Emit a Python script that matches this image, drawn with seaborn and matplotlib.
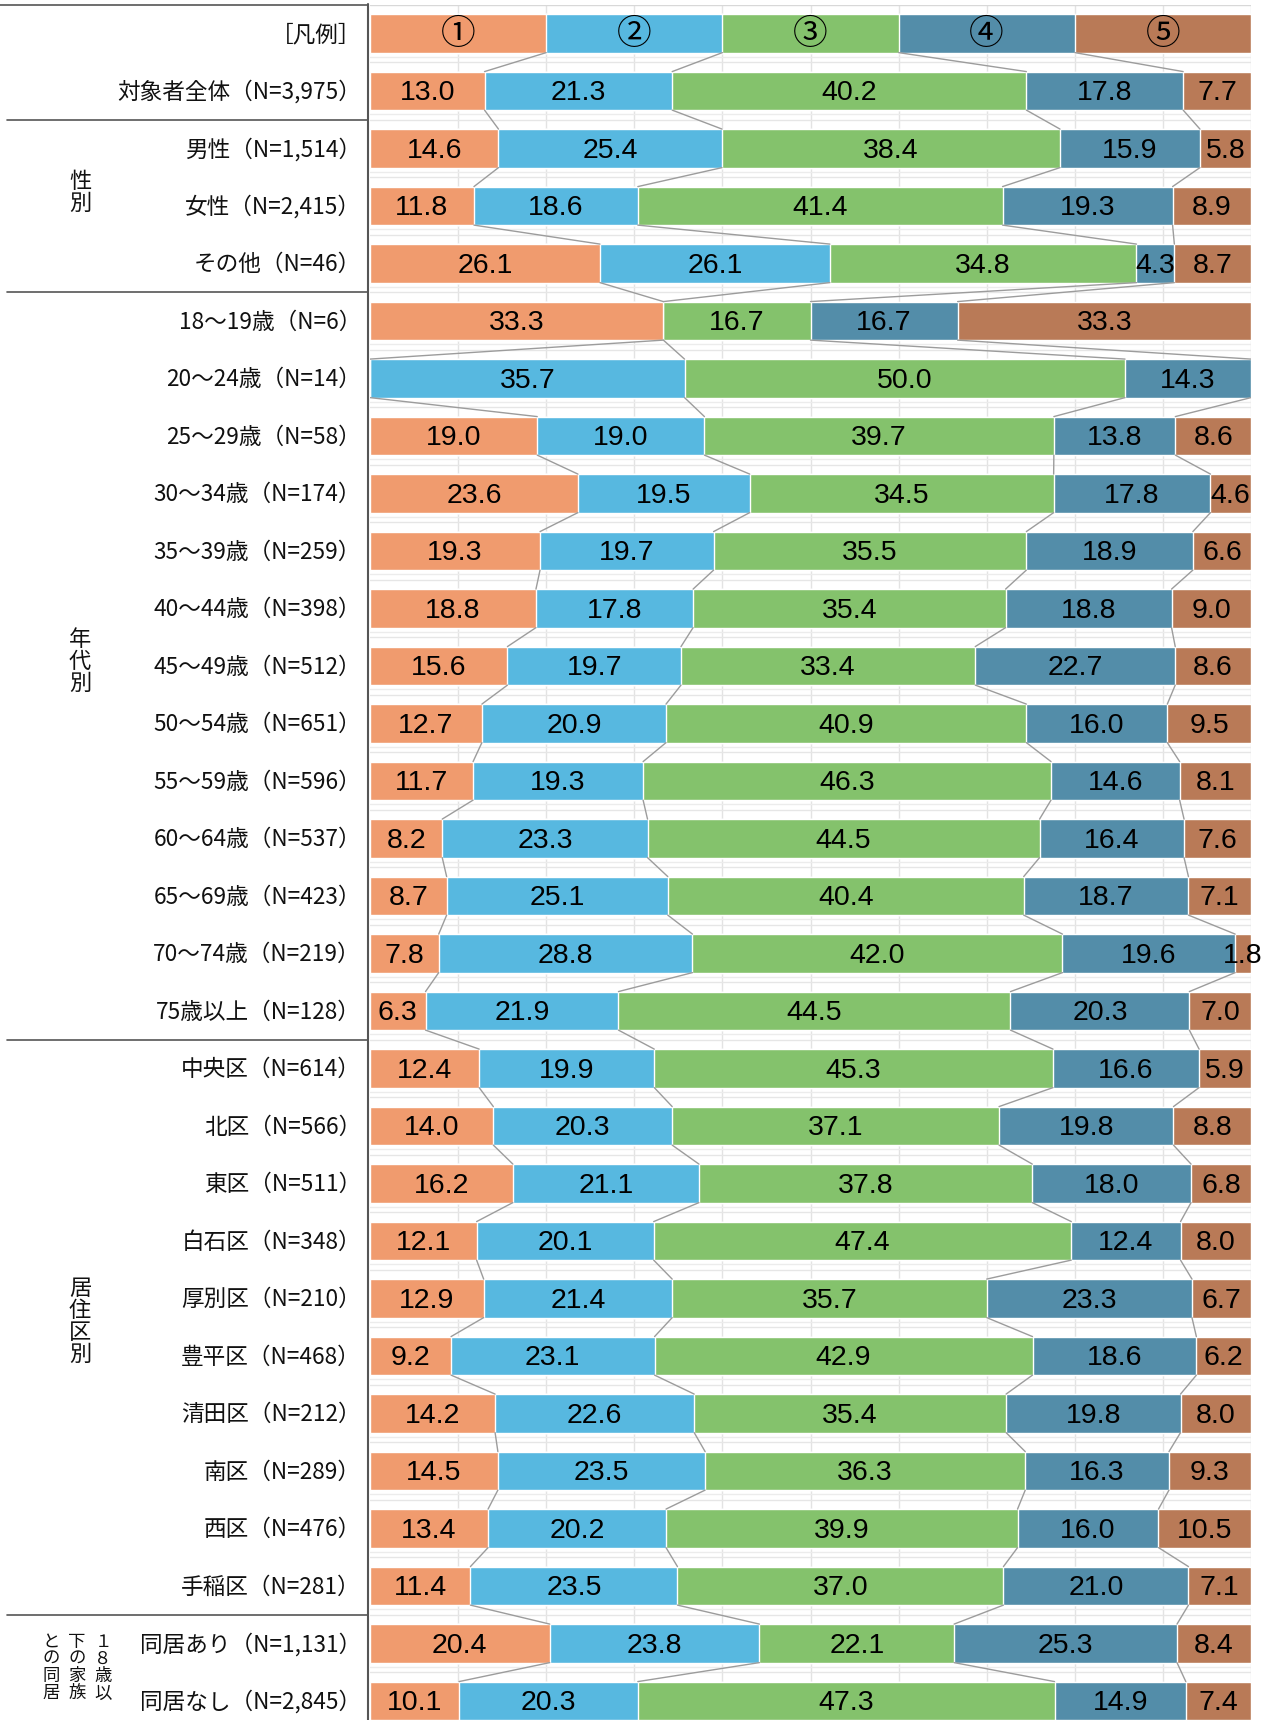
import numpy as np
import matplotlib.pyplot as plt
import matplotlib.transforms as mtransforms
from matplotlib.lines import Line2D
import seaborn as sns

# ── data ─────────────────────────────────────────────────────────────────────
ROW_NAMES = [
    "対象者全体", "男性", "女性", "その他",
    "18～19歳", "20～24歳", "25～29歳", "30～34歳", "35～39歳", "40～44歳",
    "45～49歳", "50～54歳", "55～59歳", "60～64歳", "65～69歳", "70～74歳", "75歳以上",
    "中央区", "北区", "東区", "白石区", "厚別区", "豊平区", "清田区", "南区", "西区", "手稲区",
    "同居あり", "同居なし",
]
ROW_N = [
    "3,975", "1,514", "2,415", "46",
    "6", "14", "58", "174", "259", "398",
    "512", "651", "596", "537", "423", "219", "128",
    "614", "566", "511", "348", "210", "468", "212", "289", "476", "281",
    "1,131", "2,845",
]
S1 = [13.0, 14.6, 11.8, 26.1, 33.3, 0.0, 19.0, 23.6, 19.3, 18.8, 15.6, 12.7, 11.7, 8.2, 8.7,
      7.8, 6.3, 12.4, 14.0, 16.2, 12.1, 12.9, 9.2, 14.2, 14.5, 13.4, 11.4, 20.4, 10.1]
S2 = [21.3, 25.4, 18.6, 26.1, 0.0, 35.7, 19.0, 19.5, 19.7, 17.8, 19.7, 20.9, 19.3, 23.3, 25.1,
      28.8, 21.9, 19.9, 20.3, 21.1, 20.1, 21.4, 23.1, 22.6, 23.5, 20.2, 23.5, 23.8, 20.3]
S3 = [40.2, 38.4, 41.4, 34.8, 16.7, 50.0, 39.7, 34.5, 35.5, 35.4, 33.4, 40.9, 46.3, 44.5, 40.4,
      42.0, 44.5, 45.3, 37.1, 37.8, 47.4, 35.7, 42.9, 35.4, 36.3, 39.9, 37.0, 22.1, 47.3]
S4 = [17.8, 15.9, 19.3, 4.3, 16.7, 14.3, 13.8, 17.8, 18.9, 18.8, 22.7, 16.0, 14.6, 16.4, 18.7,
      19.6, 20.3, 16.6, 19.8, 18.0, 12.4, 23.3, 18.6, 19.8, 16.3, 16.0, 21.0, 25.3, 14.9]
S5 = [7.7, 5.8, 8.9, 8.7, 33.3, 0.0, 8.6, 4.6, 6.6, 9.0, 8.6, 9.5, 8.1, 7.6, 7.1,
      1.8, 7.0, 5.9, 8.8, 6.8, 8.0, 6.7, 6.2, 8.0, 9.3, 10.5, 7.1, 8.4, 7.4]

LEGEND_LABEL = "［凡例］"
LEGEND_MARKS = ["①", "②", "③", "④", "⑤"]
LEGEND_VALUES = [20, 20, 20, 20, 20]

COLORS = ["#F09B6E", "#57B8E0", "#84C26C", "#538DA9", "#B97A57"]

# group labels on the left: (text, row position)
GROUPS = [("性\n別", 2.77), ("年\n代\n別", 10.93), ("居\n住\n区\n別", 22.4)]
SEPARATOR_ROWS = [2, 5, 18, 28]

# ── prepare ──────────────────────────────────────────────────────────────────
W, H = 1287, 1720
sns.set_theme(style="white")
plt.rcParams["font.family"] = ["Noto Sans CJK JP", "DejaVu Sans"]

labels = [LEGEND_LABEL] + [f"{a}（N={b}）" for a, b in zip(ROW_NAMES, ROW_N)]
vals = np.array([LEGEND_VALUES] + [list(r) for r in zip(S1, S2, S3, S4, S5)], dtype=float)
vals = vals / vals.sum(axis=1, keepdims=True) * 100     # 100% stacked
cum = np.cumsum(vals, axis=1)
n_rows = len(labels)
BAR_H = 0.67

fig = plt.figure(figsize=(W / 100, H / 100), dpi=100)
top_px, pitch = 4.6, 57.5
ax = fig.add_axes([370 / W, 1 - (top_px + pitch * n_rows) / H, 881 / W, pitch * n_rows / H])

# background grid (spreadsheet-like)
for gx in range(10, 101, 10):
    ax.axvline(gx, color="#e3e3e3", lw=1, zorder=0)
for k in range(1, n_rows):
    ax.axhline(k - 0.5, color="#e6e6e6", lw=1, zorder=0)
    ax.axhline(k - 0.5 - 0.096, color="#ececec", lw=1, zorder=0)
ax.axhline(-0.5, color="#d8d8d8", lw=1, zorder=0)

# stacked bars: draw cumulative totals from widest to narrowest
for j in range(4, -1, -1):
    sns.barplot(x=cum[:, j], y=labels, order=labels, orient="h", color=COLORS[j],
                saturation=1, width=BAR_H, errorbar=None, ax=ax, zorder=2)

# series lines between consecutive rows
for i in range(n_rows - 1):
    for j in range(4):
        ax.plot([cum[i, j], cum[i + 1, j]], [i + BAR_H / 2, i + 1 - BAR_H / 2],
                color="#9c9c9c", lw=1, zorder=3)

# value labels
for i in range(n_rows):
    left = 0.0
    for j in range(5):
        v = vals[i, j]
        if i == 0:
            ax.text(left + v / 2, i + 0.02, LEGEND_MARKS[j], ha="center", va="center",
                    fontsize=25, color="black", zorder=4)
        elif v > 0:
            raw = [S1, S2, S3, S4, S5][j][i - 1]
            ax.text(left + v / 2, i + 0.04, f"{raw:.1f}", ha="center", va="center",
                    fontsize=20.5, family="Liberation Sans", color="black", zorder=4)
        left += v

ax.set_xlim(0, 100)
ax.set_ylim(n_rows - 0.5, -0.5)
ax.set_xlabel("")
ax.set_ylabel("")
ax.set_xticks([])
ax.set_yticks([])
for sp in ax.spines.values():
    sp.set_visible(False)

# row labels on the left
trans = mtransforms.blended_transform_factory(fig.transFigure, ax.transData)
for i, lab in enumerate(labels):
    ax.text(361 / W, i + 0.02, lab, transform=trans, ha="right", va="center",
            fontsize=16.3, color="#111111")

for txt, pos in GROUPS:
    ax.text(80 / W, pos, txt, transform=trans, ha="center", va="center",
            fontsize=16, linespacing=0.95, color="#111111")

# last group: vertical text written right to left
for x_px, col in [(103, "１\n８\n歳\n以"), (77, "下\nの\n家\n族"), (51, "と\nの\n同\n居")]:
    ax.text(x_px / W, 28.42, col, transform=trans, ha="center", va="center",
            fontsize=12.5, linespacing=0.95, color="#111111")

# table lines
def fig_line(x0, y0, x1, y1, **kw):
    fig.add_artist(Line2D([x0 / W, x1 / W], [1 - y0 / H, 1 - y1 / H],
                          transform=fig.transFigure, **kw))

fig_line(368, 4, 368, H, color="#555555", lw=1.5)
fig_line(0, 4.5, 368, 4.5, color="#555555", lw=1.2)
for k in SEPARATOR_ROWS:
    y = top_px + pitch * k
    fig_line(7, y, 368, y, color="#555555", lw=1.2)

fig.savefig("out.png", dpi=100)
